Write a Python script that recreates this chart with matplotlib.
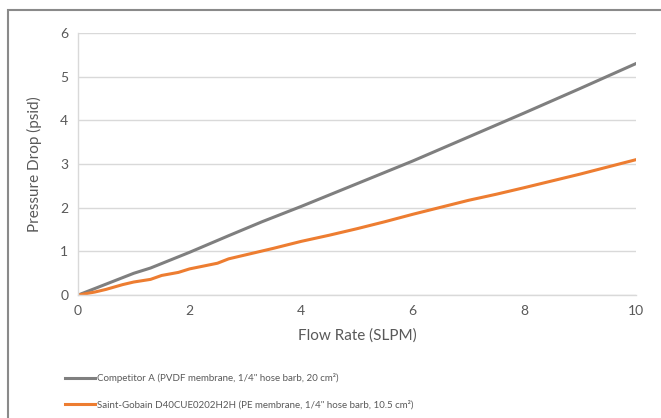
import matplotlib.pyplot as plt
import matplotlib.patches as patches

# Competitor A
flow_a = [0, 0.2, 0.5, 1.0, 1.3, 2.0, 2.7, 3.3, 4.0, 5.0, 6.0, 7.0, 8.0, 9.0, 10.0]
dp_a = [0, 0.10, 0.25, 0.50, 0.62, 0.98, 1.36, 1.68, 2.03, 2.55, 3.07, 3.62, 4.17, 4.73, 5.30]

# Saint-Gobain
flow_b = [0, 0.3, 0.5, 0.8, 1.0, 1.3, 1.5, 1.8, 2.0, 2.5, 2.7, 3.0, 3.5, 4.0,
          4.5, 5.0, 5.5, 6.0, 6.5, 7.0, 7.5, 8.0, 9.0, 10.0]
dp_b = [0, 0.07, 0.13, 0.24, 0.30, 0.36, 0.45, 0.52, 0.60, 0.73, 0.83, 0.92, 1.07, 1.23,
        1.37, 1.52, 1.68, 1.85, 2.01, 2.17, 2.31, 2.46, 2.77, 3.10]

labels = ['Competitor A (PVDF membrane, 1/4" hose barb, 20 cm\u00b2)',
          'Saint-Gobain D40CUE0202H2H (PE membrane, 1/4" hose barb, 10.5 cm\u00b2)']

plt.rcParams['font.family'] = ['Lato', 'DejaVu Sans']
text_color = '#595959'
grid_color = '#d9d9d9'

fig = plt.figure(figsize=(6.61, 4.18), dpi=100)
ax = fig.add_axes([0.118, 0.294, 0.844, 0.627])

l1, = ax.plot(flow_a, dp_a, color='#7f7f7f', lw=2.2, label=labels[0])
l2, = ax.plot(flow_b, dp_b, color='#ed7d31', lw=2.2, label=labels[1])

ax.set_xlim(0, 10)
ax.set_ylim(0, 6)
ax.set_xticks([0, 2, 4, 6, 8, 10])
ax.set_yticks(range(0, 7))
ax.grid(axis='y', color=grid_color, lw=1)
ax.set_axisbelow(True)
for s in ['top', 'right']:
    ax.spines[s].set_visible(False)
for s in ['left', 'bottom']:
    ax.spines[s].set_color(grid_color)
    ax.spines[s].set_linewidth(1)
ax.tick_params(length=0, labelsize=10, colors=text_color, pad=7)

ax.set_xlabel('Flow Rate (SLPM)', fontsize=11, color=text_color, labelpad=8)
ax.set_ylabel('Pressure Drop (psid)', fontsize=11, color=text_color, labelpad=13)

fig.legend(handles=[l1, l2], loc='upper left', bbox_to_anchor=(0.085, 0.128),
           frameon=False, fontsize=7, labelcolor=text_color,
           handlelength=3.1, handletextpad=0.15, labelspacing=1.75)

# outer frame (cut off at right and bottom)
frame = patches.Rectangle((0.012, -0.1), 1.2, 0.1 + 0.976, transform=fig.transFigure,
                          fill=False, edgecolor='#8a8a8a', lw=1.5)
fig.patches.append(frame)

fig.savefig('out.png', dpi=100)
